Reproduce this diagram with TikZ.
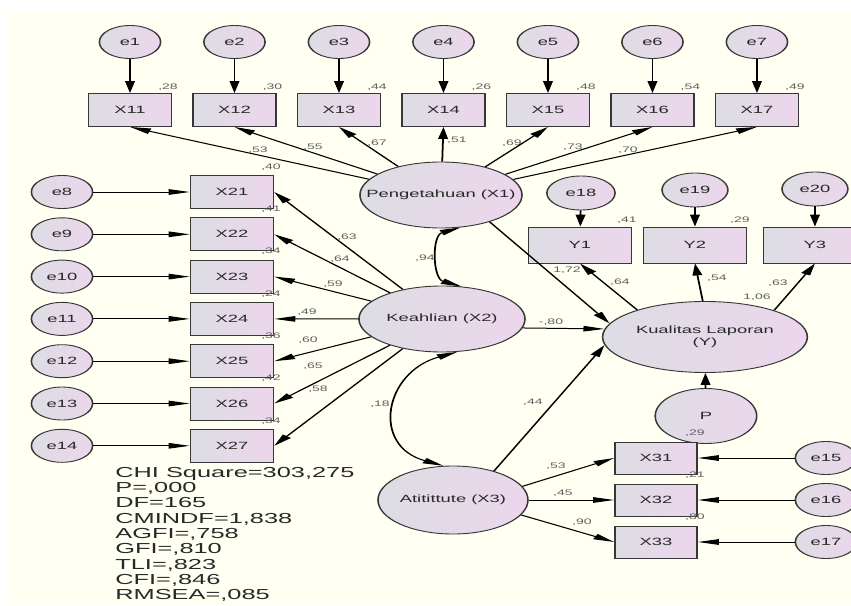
\documentclass[tikz,border=0pt]{standalone}
\usepackage{fontspec}
\setmainfont{Liberation Sans}
\usetikzlibrary{arrows.meta,shapes.geometric}
\definecolor{bgcream}{RGB}{255,255,242}
\definecolor{fillgrey}{RGB}{221,221,228}
\definecolor{fillpink}{RGB}{236,214,236}
\definecolor{linegrey}{RGB}{55,55,55}
\definecolor{txtgrey}{RGB}{40,40,40}
\definecolor{numgrey}{RGB}{95,95,95}

\tikzset{
  amosfill/.style = {draw=linegrey, line width=0.9pt, left color=fillgrey, right color=fillpink,
                     text=txtgrey, font=\fontsize{10.5}{12}\selectfont},
  err/.style = {amosfill, ellipse, minimum width=35pt, minimum height=33pt, inner sep=1pt},
  obs/.style = {amosfill, rectangle, minimum width=47.4pt, minimum height=33pt, inner sep=1pt},
  latent/.style = {amosfill, ellipse, inner xsep=-12pt, inner ysep=0pt, align=center},
  lbl/.style = {font=\fontsize{8}{9}\selectfont, text=numgrey, inner sep=0pt},
  arr/.style = {draw=black, line width=1pt, -{Triangle[length=12pt,width=5.5pt]}},
  corr/.style = {draw=black, line width=1pt,
                 {Triangle[length=12pt,width=5.5pt]}-{Triangle[length=12pt,width=5.5pt]}}
}

\begin{document}
\begin{tikzpicture}[x=1pt,y=1pt]
\useasboundingbox (0,0) rectangle (851,-605);
\fill[bgcream] (8,-11) rectangle (851,-605);
\begin{scope}[transform canvas={xscale=1.75}, x=0.5714pt]
% latent variables
\node[latent, minimum width=92.6pt, minimum height=66pt] (X1) at (441,-195) {Pengetahuan (X1)};
\node[latent, minimum width=94.9pt, minimum height=66pt] (X2) at (442,-319) {Keahlian (X2)};
\node[latent, minimum width=85.7pt, minimum height=68pt] (X3) at (453,-500) {Atitittute (X3)};
\node[latent, minimum width=117pt, minimum height=71pt] (Y) at (705,-337) {Kualitas Laporan\\(Y)};
\node[latent, minimum width=58pt, minimum height=55pt] (P) at (706,-416) {P};

% indicators of X1
\foreach \i/\v/\w/\lx/\ly in {1/28/53/258/150, 2/30/55/313/147, 3/44/67/377/143, 4/26/51/457/140,
                              5/48/69/512/143, 6/54/73/573/147, 7/49/70/628/150}{
  \pgfmathsetmacro\xx{130+104.5*(\i-1)}
  \node[err] (e\i) at (\xx,-42) {e\i};
  \node[obs] (X1\i) at (\xx,-110) {X1\i};
  \node[lbl] at (\xx+38,-87) {,\v};
  \node[lbl] at (\lx,-\ly) {,\w};
  \draw[arr] (e\i) -- (X1\i);
  \draw[arr] (X1) -- (X1\i.south);
}

% indicators of X2
\foreach \i/\v/\w/\lx/\ly in {1/40/63/347/237, 2/41/64/340/259, 3/34/59/333/284, 4/24/49/307/312,
                              5/36/60/308/340, 6/42/65/313/366, 7/34/58/318/389}{
  \pgfmathsetmacro\yy{192+42.3*(\i-1)}
  \pgfmathtruncatemacro\k{7+\i}
  \node[err] (e\k) at (62,-\yy) {e\k};
  \node[obs] (X2\i) at (232,-\yy) {X2\i};
  \node[lbl] at (271,-\yy+25) {,\v};
  \node[lbl] at (\lx,-\ly) {,\w};
  \draw[arr] (e\k) -- (X2\i);
  \draw[arr] (X2) -- (X2\i.east);
}

% indicators of X3
\foreach \i/\v/\w/\lx/\ly/\a in {1/29/53/556/466/19, 2/21/45/563/493/0, 3/80/90/582/522/-21}{
  \pgfmathsetmacro\yy{458+42*(\i-1)}
  \pgfmathtruncatemacro\k{14+\i}
  \node[err] (e\k) at (826,-\yy) {e\k};
  \node[obs, minimum width=46.9pt, minimum height=32pt] (X3\i) at (656,-\yy) {X3\i};
  \node[lbl] at (695,-\yy+25) {,\v};
  \node[lbl] at (\lx,-\ly) {,\w};
  \draw[arr] (e\k) -- (X3\i);
  \draw[arr] (X3.\a) -- (X3\i.west);
}

% indicators of Y
\node[obs, minimum width=58.9pt, minimum height=36pt] (Y1) at (580,-245) {Y1};
\node[obs, minimum width=58.9pt, minimum height=36pt] (Y2) at (695,-245) {Y2};
\node[obs, minimum width=58.9pt, minimum height=36pt] (Y3) at (815,-245) {Y3};
\node[err, minimum width=39pt, minimum height=34pt] (e18) at (581,-193) {e18};
\node[err, minimum width=37.7pt, minimum height=34pt] (e19) at (695,-190) {e19};
\node[err, minimum width=37.7pt, minimum height=34pt] (e20) at (815,-189) {e20};
\node[lbl] at (627,-220) {,41};
\node[lbl] at (740,-220) {,29};
\draw[arr] (e18) -- (Y1);
\draw[arr] (e19) -- (Y2);
\draw[arr] (e20) -- (Y3);
\draw[arr] (Y.145) -- (Y1.south);
\draw[arr] (Y.92) -- (Y2.south);
\draw[arr] (Y.34) -- (Y3.south);
\node[lbl] at (620,-282) {,64};
\node[lbl] at (717,-278) {,54};
\node[lbl] at (778,-283) {,63};
\node[lbl] at (757,-297) {1,06};

% structural paths
\draw[arr] (X1.-44) -- (Y.166);
\draw[arr] (X2.-11) -- (Y.172);
\draw[arr] (X3.51) -- (Y.188);
\draw[arr] (P) -- (Y);
\node[lbl] at (567,-270) {1,72};
\node[lbl] at (551,-322) {-,80};
\node[lbl] at (533,-402) {,44};

% correlations
\draw[corr] (X1.-71) .. controls +(-29,-8) and +(-29,8) .. (X2.71);
\draw[corr] (X2.-75) .. controls +(-73,-20) and +(-73,20) .. (X3.99);
\node[lbl] at (425,-258) {,94};
\node[lbl] at (380,-404) {,18};

% fit indices
\node[anchor=north west, inner sep=0pt, align=left, text=txtgrey,
      font=\fontsize{14.5}{15.3}\selectfont] (stats) at (115,-467)
  {CHI Square=303,275\\P=,000\\DF=165\\CMINDF=1,838\\AGFI=,758\\GFI=,810\\TLI=,823\\CFI=,846\\RMSEA=,085};
\end{scope}
\end{tikzpicture}
\end{document}
